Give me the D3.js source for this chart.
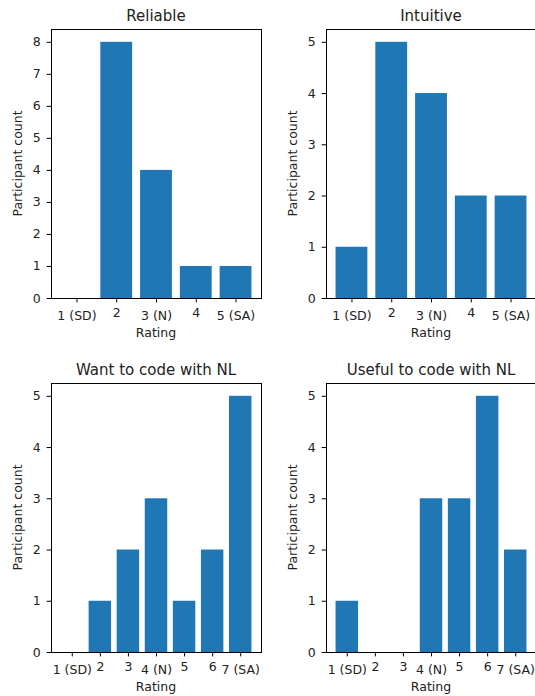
<!DOCTYPE html>
<html>
<head>
<meta charset="utf-8">
<script src="https://cdn.jsdelivr.net/npm/d3@7"></script>
<style>
  body { margin: 0; background: #fff; }
  svg text { font-family: "DejaVu Sans", sans-serif; fill: #222; }
</style>
</head>
<body>
<div id="chart"></div>
<script>
// Data
const titles = ["Reliable", "Intuitive", "Want to code with NL", "Useful to code with NL"];
const labels5 = ["1 (SD)", "2", "3 (N)", "4", "5 (SA)"];
const labels7 = ["1 (SD)", "2", "3", "4 (N)", "5", "6", "7 (SA)"];
const reliable = [0, 8, 4, 1, 1];
const intuitive = [1, 5, 4, 2, 2];
const wantNL = [0, 1, 2, 3, 1, 2, 5];
const usefulNL = [1, 0, 0, 3, 3, 5, 2];

const panels = [
  { title: titles[0], labels: labels5, values: reliable, x0: 51, y0: 29 },
  { title: titles[1], labels: labels5, values: intuitive, x0: 326, y0: 29 },
  { title: titles[2], labels: labels7, values: wantNL, x0: 51, y0: 383 },
  { title: titles[3], labels: labels7, values: usefulNL, x0: 326, y0: 383 }
];

const W = 535, H = 696;
const pw = 210, ph = 269;
const barColor = "#1f77b4";

const svg = d3.select("#chart")
  .append("svg")
  .attr("width", W)
  .attr("height", H);

panels.forEach(p => {
  const n = p.values.length;
  const pad = 0.05 * (n - 1 + 0.8);
  const ymax = d3.max(p.values);

  const x = d3.scaleLinear()
    .domain([-0.4 - pad, n - 1 + 0.4 + pad])
    .range([0, pw]);
  const y = d3.scaleLinear()
    .domain([0, ymax * 1.05])
    .range([ph, 0]);

  const g = svg.append("g")
    .attr("transform", `translate(${p.x0},${p.y0})`);

  // bars
  g.selectAll("rect")
    .data(p.values)
    .enter()
    .append("rect")
    .attr("x", (d, i) => x(i - 0.4))
    .attr("width", x(0.8) - x(0))
    .attr("y", d => y(d))
    .attr("height", d => ph - y(d))
    .attr("fill", barColor);

  // x axis
  const xAxis = g.append("g")
    .attr("transform", `translate(0,${ph})`)
    .call(d3.axisBottom(x)
      .tickValues(d3.range(n))
      .tickFormat(i => p.labels[i])
      .tickSize(4.4)
      .tickSizeOuter(0));
  xAxis.select(".domain").remove();
  xAxis.selectAll(".tick line").attr("stroke", "#000");
  xAxis.selectAll(".tick text")
    .attr("dy", null)
    .attr("y", d => p.labels[d].includes("(") ? 22 : 19)
    .attr("font-size", 12.5)
    .attr("fill", "#222");

  // y axis
  const yAxis = g.append("g")
    .call(d3.axisLeft(y)
      .tickValues(d3.range(0, ymax + 1))
      .tickFormat(d3.format("d"))
      .tickSize(4.4)
      .tickPadding(6)
      .tickSizeOuter(0));
  yAxis.select(".domain").remove();
  yAxis.selectAll(".tick line").attr("stroke", "#000");
  yAxis.selectAll(".tick text")
    .attr("font-size", 12.5)
    .attr("fill", "#222");

  // frame
  g.append("rect")
    .attr("x", 0)
    .attr("y", 0)
    .attr("width", pw)
    .attr("height", ph)
    .attr("fill", "none")
    .attr("stroke", "#000")
    .attr("stroke-width", 1)
    .attr("shape-rendering", "crispEdges");

  // title
  g.append("text")
    .attr("x", pw / 2)
    .attr("y", -8)
    .attr("text-anchor", "middle")
    .attr("font-size", 15)
    .text(p.title);

  // axis labels
  g.append("text")
    .attr("x", pw / 2)
    .attr("y", ph + 39)
    .attr("text-anchor", "middle")
    .attr("font-size", 12.5)
    .text("Rating");

  g.append("text")
    .attr("transform", `translate(-29,${ph / 2}) rotate(-90)`)
    .attr("text-anchor", "middle")
    .attr("font-size", 12.5)
    .text("Participant count");
});
</script>
</body>
</html>
